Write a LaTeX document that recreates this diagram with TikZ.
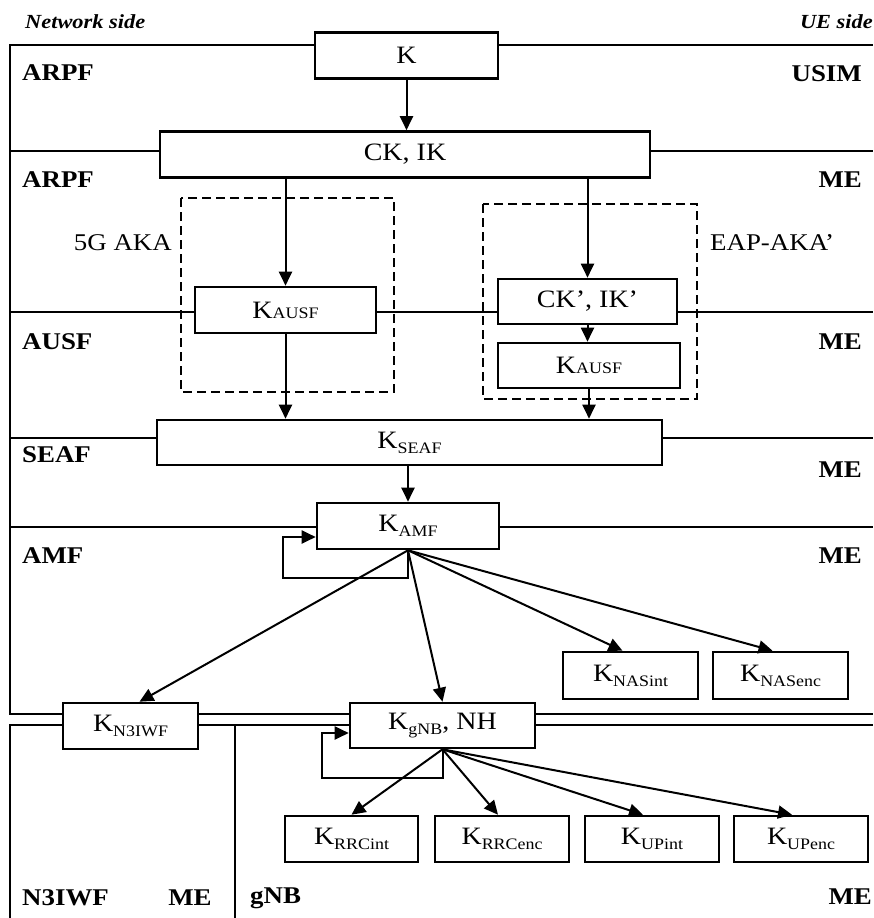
\documentclass[tikz,border=0pt]{standalone}
\usepackage{fontspec}
\setmainfont{Liberation Serif}[FakeStretch=1.12]
\usetikzlibrary{arrows.meta}

\newcommand{\ksub}[1]{K\raisebox{-5pt}{\fontsize{16}{16}\selectfont #1}}
\newcommand{\ksc}[1]{K{\fontsize{16}{16}\selectfont #1}}

\begin{document}
\begin{tikzpicture}[x=1pt,y=-1pt,
    key/.style={draw,line width=2.6pt,inner sep=0pt,minimum height=46,font=\fontsize{25}{27}\selectfont},
    layer/.style={line width=2pt},
    group/.style={draw,line width=2pt,dash pattern=on 9pt off 5pt},
    flow/.style={line width=2pt,-{Triangle[length=14pt,width=13pt]}},
    tag/.style={font=\fontsize{24}{26}\selectfont\bfseries,inner sep=0pt},
    proto/.style={font=\fontsize{24}{26}\selectfont,inner sep=0pt},
    side/.style={font=\fontsize{20}{22}\selectfont\bfseries\itshape,inner sep=0pt}]
    \useasboundingbox (0,0) rectangle (873,918);

    % frame corners
    \coordinate (f1) at (10,45);  \coordinate (r1) at (873,45);
    \coordinate (f2) at (10,151); \coordinate (r2) at (873,151);
    \coordinate (f3) at (10,312); \coordinate (r3) at (873,312);
    \coordinate (f4) at (10,438); \coordinate (r4) at (873,438);
    \coordinate (f5) at (10,527); \coordinate (r5) at (873,527);
    \coordinate (f6) at (10,714); \coordinate (r6) at (873,714);
    \coordinate (f7) at (10,725); \coordinate (r7) at (873,725);
    \coordinate (f8) at (10,918);
    \coordinate (g1) at (235,725); \coordinate (g2) at (235,918);

    % keys
    \node[key,minimum width=183] (k) at (406.5,55.5) {K};
    \node[key,minimum width=490] (ckik) at (405,154.5) {CK, IK};
    \node[key,minimum width=181] (kausf-5g) at (285.5,310) {\ksc{AUSF}};
    \node[key,minimum width=179,minimum height=45] (ckik-p) at (587.5,301.5) {CK’, IK’};
    \node[key,minimum width=182,minimum height=45] (kausf-eap) at (589,365.5) {\ksc{AUSF}};
    \node[key,minimum width=505,minimum height=45] (kseaf) at (409.5,442.5) {\ksub{SEAF}};
    \node[key,minimum width=182] (kamf) at (408,526) {\ksub{AMF}};
    \node[key,minimum width=135,minimum height=47] (knas-int) at (630.5,675.5) {\ksub{NASint}};
    \node[key,minimum width=135,minimum height=47] (knas-enc) at (780.5,675.5) {\ksub{NASenc}};
    \node[key,minimum width=135] (kn3iwf) at (130.5,726) {\ksub{N3IWF}};
    \node[key,minimum width=185,minimum height=45] (kgnb) at (442.5,725.5) {\ksub{gNB}, NH};
    \node[key,minimum width=133] (krrc-int) at (351.5,839) {\ksub{RRCint}};
    \node[key,minimum width=134] (krrc-enc) at (502,839) {\ksub{RRCenc}};
    \node[key,minimum width=134] (kup-int) at (652,839) {\ksub{UPint}};
    \node[key,minimum width=134] (kup-enc) at (801,839) {\ksub{UPenc}};

    % protocol groups
    \draw[group] (181,198) rectangle (394,392);
    \draw[group] (483,204) rectangle (697,399);
    \node[proto,anchor=east] (aka-5g) at (172,243) {5G AKA};
    \node[proto,anchor=west] (aka-eap) at (710,243) {EAP-AKA’};

    % layers
    \draw[layer] (k.west |- f1) -- (f1) -- (f6) -- (kn3iwf.west |- f6);
    \draw[layer] (k.east |- r1) -- (r1);
    \draw[layer] (f2) -- (ckik.west |- f2);
    \draw[layer] (ckik.east |- r2) -- (r2);
    \draw[layer] (f3) -- (kausf-5g.west |- f3);
    \draw[layer] (kausf-5g.east |- f3) -- (ckik-p.west |- f3);
    \draw[layer] (ckik-p.east |- r3) -- (r3);
    \draw[layer] (f4) -- (kseaf.west |- f4);
    \draw[layer] (kseaf.east |- r4) -- (r4);
    \draw[layer] (f5) -- (kamf.west |- f5);
    \draw[layer] (kamf.east |- r5) -- (r5);
    \draw[layer] (kn3iwf.east |- f6) -- (kgnb.west |- f6);
    \draw[layer] (kgnb.east |- r6) -- (r6);
    \draw[layer] (f8) -- (f7) -- (kn3iwf.west |- f7);
    \draw[layer] (kn3iwf.east |- f7) -- (kgnb.west |- f7);
    \draw[layer] (kgnb.east |- r7) -- (r7);
    \draw[layer] (g1) -- (g2);

    % labels
    \node[side,anchor=west] (net-side) at (25,22) {Network side};
    \node[side,anchor=east] (ue-side) at (873,22) {UE side};
    \node[tag,anchor=west] (arpf-1) at (22,73) {ARPF};
    \node[tag,anchor=east] (usim) at (862,74) {USIM};
    \node[tag,anchor=west] (arpf-2) at (22,180) {ARPF};
    \node[tag,anchor=east] (me-1) at (862,180) {ME};
    \node[tag,anchor=west] (ausf) at (22,342) {AUSF};
    \node[tag,anchor=east] (me-2) at (862,342) {ME};
    \node[tag,anchor=west] (seaf) at (22,455) {SEAF};
    \node[tag,anchor=east] (me-3) at (862,470) {ME};
    \node[tag,anchor=west] (amf) at (22,556) {AMF};
    \node[tag,anchor=east] (me-4) at (862,556) {ME};
    \node[tag,anchor=west] (n3iwf) at (22,898) {N3IWF};
    \node[tag] (me-5) at (190,898) {ME};
    \node[tag,anchor=west] (gnb) at (250,898) {gNB};
    \node[tag,anchor=east] (me-6) at (872,897) {ME};

    % derivations
    \draw[flow] (k.south) -- (k.south |- ckik.north);
    \draw[flow] (ckik.south -| kausf-5g.north) -- (kausf-5g.north);
    \draw[flow] (ckik.south -| ckik-p.north) -- (ckik-p.north);
    \draw[flow] (ckik-p.south) -- (ckik-p.south |- kausf-eap.north);
    \draw[flow] (kausf-5g.south) -- (kausf-5g.south |- kseaf.north);
    \draw[flow] (kausf-eap.south) -- (kausf-eap.south |- kseaf.north);
    \draw[flow] (kseaf.south -| kamf.north) -- (kamf.north);
    \draw[flow] (kamf.south) -- ++(0,28) -| ([xshift=-33pt,yshift=-11pt]kamf.west) -- ([yshift=-11pt]kamf.west);
    \draw[flow] (kamf.south) -- ([xshift=9pt]kn3iwf.north);
    \draw[flow] (kamf.south) -- (kgnb.north);
    \draw[flow] (kamf.south) -- ([xshift=-8pt]knas-int.north);
    \draw[flow] (kamf.south) -- ([xshift=-8pt]knas-enc.north);
    \draw[flow] (kgnb.south) -- ++(0,29) -| ([xshift=-27pt,yshift=-7.5pt]kgnb.west) -- ([yshift=-7.5pt]kgnb.west);
    \draw[flow] (kgnb.south) -- (krrc-int.north);
    \draw[flow] (kgnb.south) -- ([xshift=-4pt]krrc-enc.north);
    \draw[flow] (kgnb.south) -- ([xshift=-9pt]kup-int.north);
    \draw[flow] (kgnb.south) -- ([xshift=-9pt]kup-enc.north);
\end{tikzpicture}
\end{document}
